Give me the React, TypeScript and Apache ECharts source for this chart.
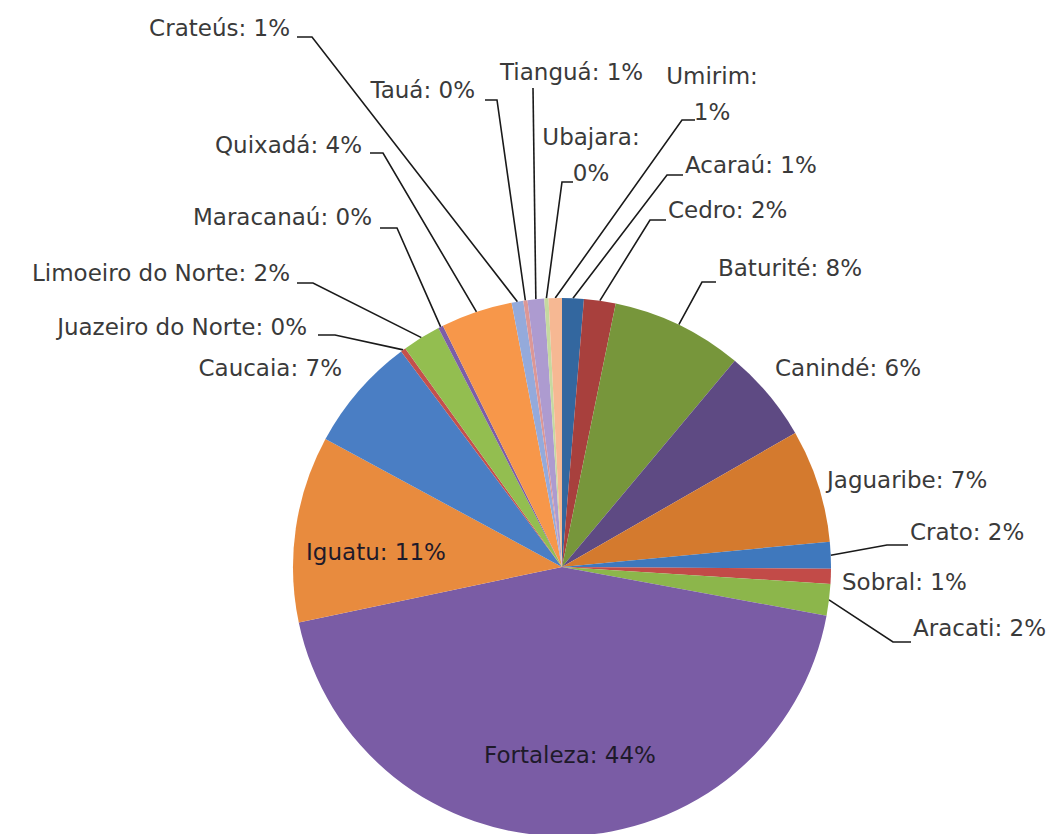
import React, { useEffect, useRef } from "react";
import * as echarts from "echarts";

const categories = [
  "Acaraú", "Cedro", "Baturité", "Canindé", "Jaguaribe", "Crato", "Sobral", "Aracati",
  "Fortaleza", "Iguatu", "Caucaia", "Juazeiro do Norte", "Limoeiro do Norte", "Maracanaú",
  "Quixadá", "Crateús", "Tauá", "Tianguá", "Ubajara", "Umirim",
];
const values = [1.3, 1.9, 7.9, 5.6, 6.8, 1.6, 0.9, 1.9, 43.8, 11.2, 6.9, 0.3, 2.3, 0.3, 4.3, 0.7, 0.25, 1.0, 0.25, 0.8];
const colors = [
  "#33679f", "#a8403d", "#77963b", "#5e4a83", "#d47a2e", "#3f78bd", "#c24b48", "#8cb64b",
  "#7a5ca5", "#e88b3e", "#4a7ec4", "#c4504c", "#93be50", "#7b5ea8", "#f7974a", "#94aadb",
  "#dc9796", "#ad9bd0", "#c5d9a0", "#f6b893",
];
const twoLineLabels = ["Ubajara", "Umirim"];
const insideLabels = ["Fortaleza", "Iguatu"];

// label placement (layout only): anchor, alignment, and leader elbow points near the label
type LL = { x: number; y: number; align: string; line?: number[][] };
const labelLayouts: LL[] = [
  { x: 685, y: 165, align: "left", line: [[667, 175], [683, 175]] }, // Acaraú
  { x: 668, y: 210, align: "left", line: [[650, 220], [666, 220]] }, // Cedro
  { x: 718, y: 268, align: "left", line: [[702, 282], [716, 282]] }, // Baturité
  { x: 775, y: 368, align: "left" }, // Canindé
  { x: 827, y: 480, align: "left" }, // Jaguaribe
  { x: 910, y: 532, align: "left", line: [[887, 545], [908, 545]] }, // Crato
  { x: 842, y: 582, align: "left" }, // Sobral
  { x: 913, y: 628, align: "left", line: [[893, 642], [911, 642]] }, // Aracati
  { x: 570, y: 755, align: "center" }, // Fortaleza
  { x: 376, y: 552, align: "center" }, // Iguatu
  { x: 342, y: 368, align: "right" }, // Caucaia
  { x: 307, y: 327, align: "right", line: [[335, 335], [318, 335]] }, // Juazeiro
  { x: 290, y: 273, align: "right", line: [[313, 283], [297, 283]] }, // Limoeiro
  { x: 372, y: 217, align: "right", line: [[397, 228], [380, 228]] }, // Maracanaú
  { x: 362, y: 145, align: "right", line: [[383, 153], [370, 153]] }, // Quixadá
  { x: 290, y: 28, align: "right", line: [[312, 37], [297, 37]] }, // Crateús
  { x: 475, y: 90, align: "right", line: [[497, 100], [485, 100]] }, // Tauá
  { x: 500, y: 72, align: "left", line: [[533, 88], [533, 88]] }, // Tianguá
  { x: 591, y: 155, align: "center", line: [[562, 182], [573, 182]] }, // Ubajara
  { x: 712, y: 94, align: "center", line: [[682, 120], [695, 120]] }, // Umirim
];

export default function App() {
  const ref = useRef<HTMLDivElement>(null);
  useEffect(() => {
    document.body.style.margin = "0";
    if (!ref.current) return;
    const chart = echarts.init(ref.current, undefined, { renderer: "svg" });
    const data = categories.map((name, i) => {
      const inside = insideLabels.includes(name);
      const hasLine = !!labelLayouts[i].line;
      return {
        name,
        value: values[i],
        itemStyle: { color: colors[i] },
        label: { color: inside ? "#1e1a2a" : "#3a3a3a" },
        labelLine: { show: hasLine },
      };
    });
    chart.setOption({
      animation: false,
      backgroundColor: "#ffffff",
      series: [
        {
          type: "pie",
          center: [562, 567],
          radius: 269,
          startAngle: 90,
          clockwise: true,
          avoidLabelOverlap: false,
          minShowLabelAngle: 0,
          itemStyle: { borderWidth: 0 },
          emphasis: { disabled: true },
          data,
          label: {
            show: true,
            position: "outside",
            fontFamily: "DejaVu Sans",
            fontSize: 23,
            lineHeight: 36,
            formatter: (p: any) => {
              const pct = Math.round(p.percent);
              return twoLineLabels.includes(p.name) ? `${p.name}:\n${pct}%` : `${p.name}: ${pct}%`;
            },
          },
          labelLine: {
            show: true,
            length: 10,
            length2: 10,
            lineStyle: { color: "#1a1a1a", width: 1.6 },
          },
          labelLayout: (params: any) => {
            const L = labelLayouts[params.dataIndex];
            const res: any = { x: L.x, y: L.y, align: L.align, verticalAlign: "middle" };
            if (L.line && params.labelLinePoints) {
              const edge = params.labelLinePoints[0];
              res.labelLinePoints = [[edge[0], edge[1]], L.line[0], L.line[1]];
            }
            return res;
          },
        },
      ],
    });
    return () => chart.dispose();
  }, []);
  return <div ref={ref} style={{ width: 1059, height: 834 }} />;
}
